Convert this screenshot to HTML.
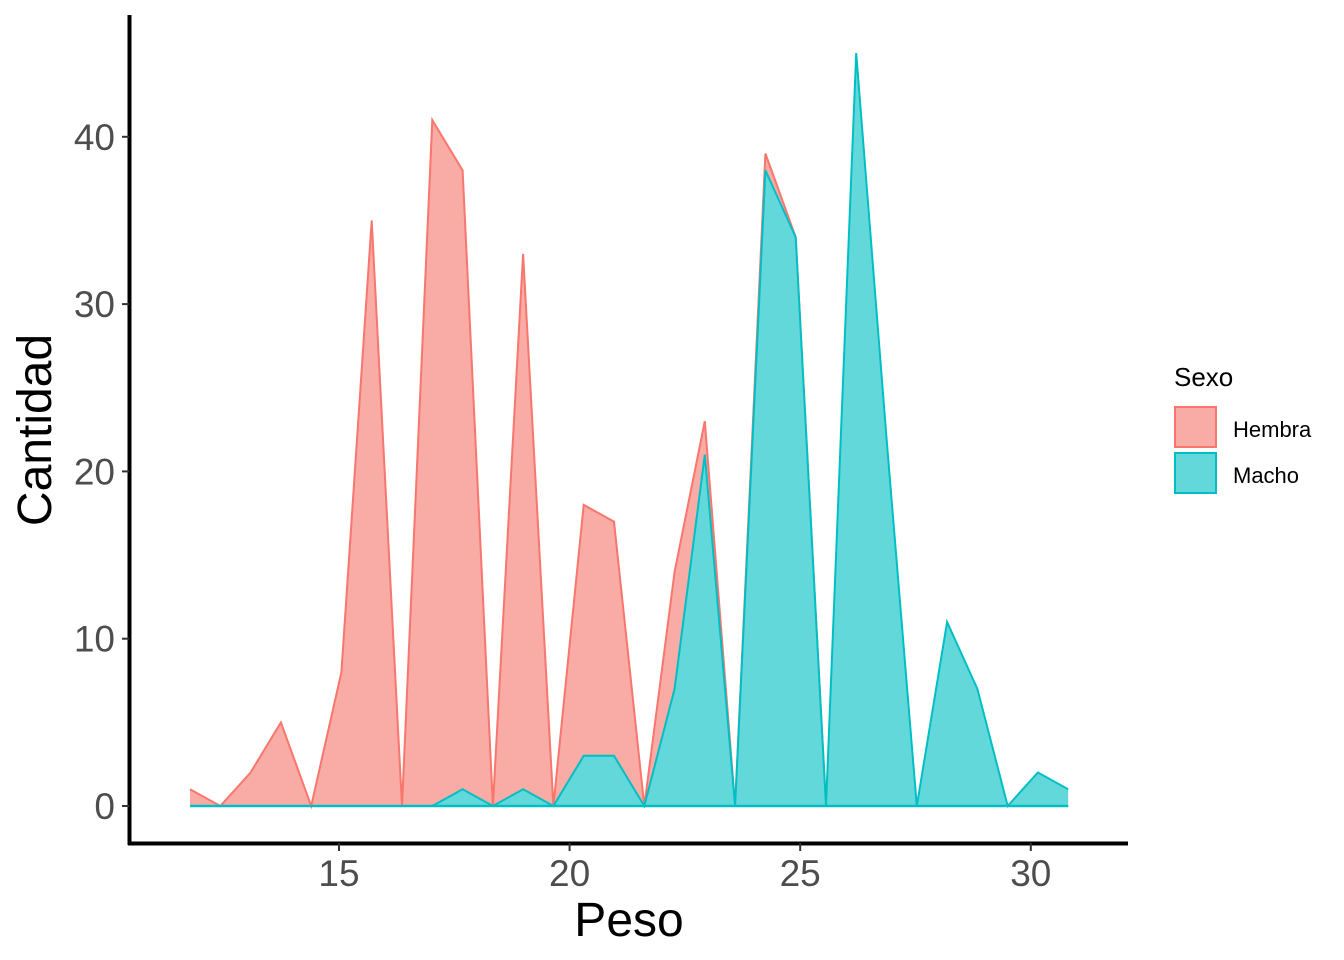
<!DOCTYPE html>
<html><head><meta charset="utf-8"><style>
body{margin:0;background:#fff;width:1344px;height:960px;overflow:hidden}
svg{display:block}
</style></head><body>
<svg id="chart" width="1344" height="960" xmlns="http://www.w3.org/2000/svg">
<g id="plot"></g>
<line x1="129.5" y1="15" x2="129.5" y2="845" stroke="#000" stroke-width="4"/>
<line x1="128" y1="843.5" x2="1128" y2="843.5" stroke="#000" stroke-width="4"/>
<g id="yticks"></g>
<g id="xticks"></g>
<text x="629" y="936" font-family="Liberation Sans, sans-serif" font-size="48" text-anchor="middle" fill="#000">Peso</text>
<text transform="translate(51,430) rotate(-90)" font-family="Liberation Sans, sans-serif" font-size="48" text-anchor="middle" fill="#000">Cantidad</text>
<g>
<text x="1174" y="386" font-family="Liberation Sans, sans-serif" font-size="26" fill="#000">Sexo</text>
<g>
<rect x="1175" y="407" width="41" height="40" fill="#F9ABA5" stroke="#F8766D" stroke-width="2"/>
<text x="1233" y="437" font-family="Liberation Sans, sans-serif" font-size="22" fill="#000">Hembra</text></g>
<g>
<rect x="1175" y="453" width="41" height="40" fill="#63D8DB" stroke="#00BFC4" stroke-width="2"/>
<text x="1233" y="483" font-family="Liberation Sans, sans-serif" font-size="22" fill="#000">Macho</text></g>
</g>
</svg>
<script>
const xStart = 11.77;
const xStep = 0.6566;
const hembra = [1,0,2,5,0,8,35,0,41,38,0,33,0,18,17,0,14,23,0,39,34,0,0,0,0,0,0,0,0,0];
const macho  = [0,0,0,0,0,0,0,0,0,1,0,1,0,3,3,0,7,21,0,38,34,0,45,22,0,11,7,0,2,1];
const yTicks = [0,10,20,30,40];
const xTicks = [15,20,25,30];
const NS='http://www.w3.org/2000/svg';
function xs(v){return 339+(v-15)*46.12;}
function ys(v){return 806-v*16.73;}
const plot=document.getElementById('plot');
function area(vals,fill,stroke,name){
  let pts=vals.map((v,i)=>xs(xStart+i*xStep).toFixed(1)+','+ys(v).toFixed(1));
  const p=document.createElementNS(NS,'polygon');
  p.setAttribute('points',xs(xStart).toFixed(1)+','+ys(0)+' '+pts.join(' ')+' '+xs(xStart+(vals.length-1)*xStep).toFixed(1)+','+ys(0));
  p.setAttribute('fill',fill);
  
  
  plot.appendChild(p);
  const l=document.createElementNS(NS,'polyline');
  l.setAttribute('points',pts.join(' '));
  l.setAttribute('fill','none');l.setAttribute('stroke',stroke);l.setAttribute('stroke-width','2');
  
  
  plot.appendChild(l);
}
area(hembra,'#F9ABA5','#F8766D','hembra');
area(macho,'#63D8DB','#00BFC4','macho');
const base=document.createElementNS(NS,'line');
base.setAttribute('x1',xs(xStart));base.setAttribute('x2',xs(xStart+(macho.length-1)*xStep));
base.setAttribute('y1',ys(0));base.setAttribute('y2',ys(0));
base.setAttribute('stroke','#00BFC4');base.setAttribute('stroke-width','2.5');


plot.appendChild(base);
const yt=document.getElementById('yticks');
yTicks.forEach(v=>{
  const t=document.createElementNS(NS,'text');
  t.setAttribute('x',115);t.setAttribute('y',ys(v)+13);
  t.setAttribute('text-anchor','end');t.setAttribute('font-size','37');
  t.setAttribute('font-family','Liberation Sans, sans-serif');t.setAttribute('fill','#4D4D4D');
  t.textContent=v;
  
  
  yt.appendChild(t);
  const l=document.createElementNS(NS,'line');
  l.setAttribute('x1',122);l.setAttribute('x2',129);l.setAttribute('y1',ys(v));l.setAttribute('y2',ys(v));
  l.setAttribute('stroke','#333');l.setAttribute('stroke-width','2');
  
  
  yt.appendChild(l);
});
const xt=document.getElementById('xticks');
xTicks.forEach(v=>{
  const t=document.createElementNS(NS,'text');
  t.setAttribute('x',xs(v));t.setAttribute('y',886);
  t.setAttribute('text-anchor','middle');t.setAttribute('font-size','37');
  t.setAttribute('font-family','Liberation Sans, sans-serif');t.setAttribute('fill','#4D4D4D');
  t.textContent=v;
  
  
  xt.appendChild(t);
  const l=document.createElementNS(NS,'line');
  l.setAttribute('x1',xs(v));l.setAttribute('x2',xs(v));l.setAttribute('y1',843);l.setAttribute('y2',851);
  l.setAttribute('stroke','#333');l.setAttribute('stroke-width','2');
  
  
  xt.appendChild(l);
});
</script>
</body></html>
